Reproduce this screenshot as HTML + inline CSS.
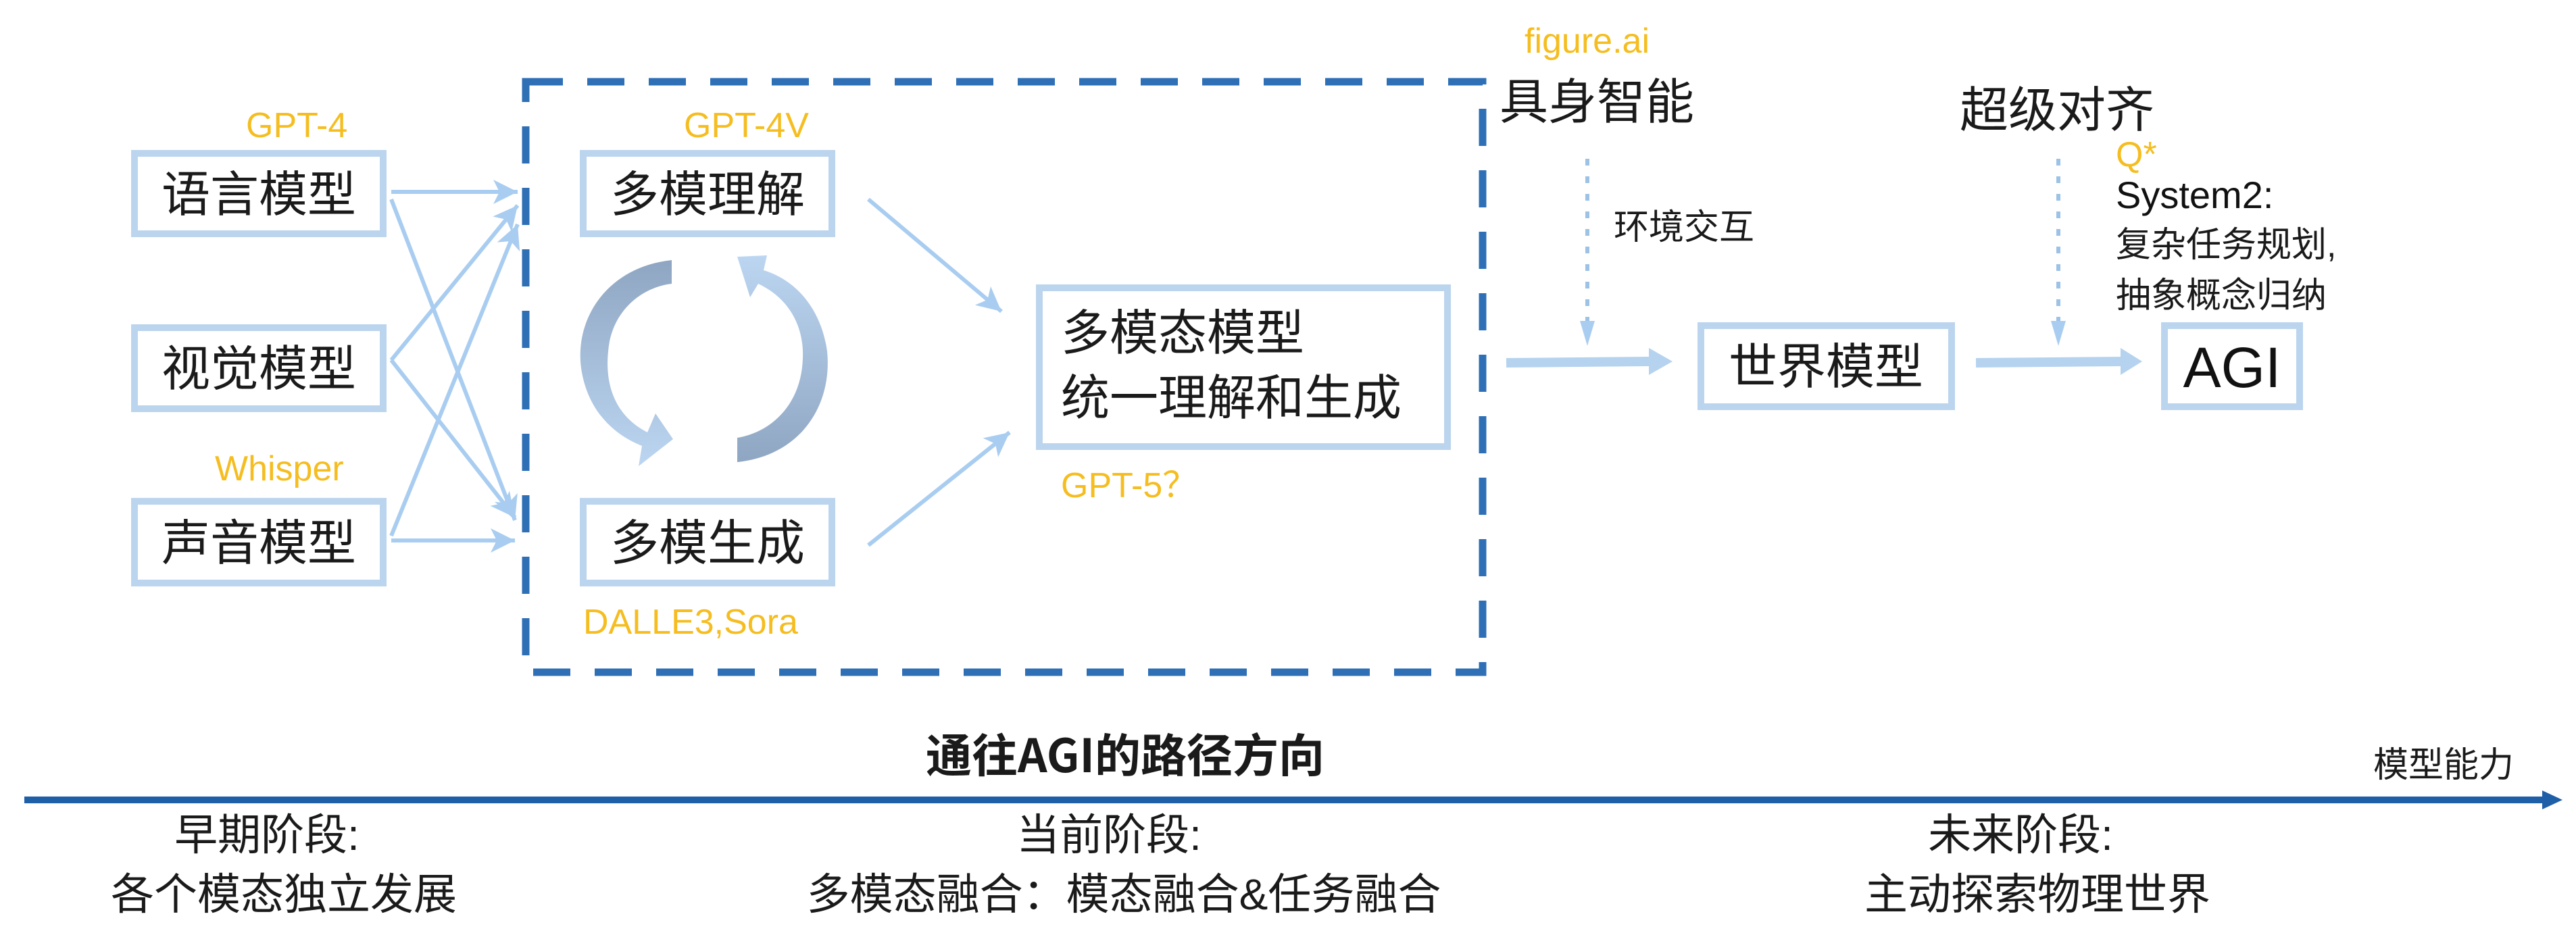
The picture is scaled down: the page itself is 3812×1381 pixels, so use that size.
<!DOCTYPE html>
<html><head><meta charset="utf-8"><style>
html,body{margin:0;padding:0;background:#fff;}
svg{display:block;}
text{font-family:"Liberation Sans","Noto Sans CJK SC",sans-serif;}
.cj{font-family:"Noto Sans CJK SC","WenQuanYi Zen Hei",sans-serif;fill:#1a1a1a;}
.y{fill:#f5bd1f;font-family:"Liberation Sans",sans-serif;}
</style></head><body>
<svg width="3812" height="1381" viewBox="0 0 3812 1381" xmlns="http://www.w3.org/2000/svg">
<defs>
<marker id="ah" markerWidth="7" markerHeight="6" refX="6" refY="3" orient="auto" markerUnits="strokeWidth">
<path d="M0,0 L6,3 L0,6 L1.5,3 z" fill="#a9cdf0"/></marker>
<linearGradient id="gL" x1="0" y1="0" x2="0" y2="1"><stop offset="0" stop-color="#8fa6c2"/><stop offset="1" stop-color="#bcd6f2"/></linearGradient>
<linearGradient id="gR" x1="0" y1="0" x2="0" y2="1"><stop offset="0" stop-color="#bcd6f2"/><stop offset="1" stop-color="#8fa6c2"/></linearGradient>
</defs>

<rect x="778" y="121" width="1416" height="874" fill="none" stroke="#2e6fb5" stroke-width="11" stroke-dasharray="55 36"/>

<g fill="#fff" stroke="#bcd5ee" stroke-width="10">
<rect x="199" y="227" width="368" height="119"/>
<rect x="199" y="485" width="368" height="120"/>
<rect x="199" y="742" width="368" height="121"/>
<rect x="863" y="227" width="368" height="119"/>
<rect x="863" y="742" width="368" height="121"/>
<rect x="1538" y="426" width="604" height="235"/>
<rect x="2517" y="482" width="371" height="120"/>
<rect x="3203" y="482" width="200" height="120"/>
</g>

<g stroke="#a9cdf0" stroke-width="6" fill="none" marker-end="url(#ah)">
<line x1="579" y1="284" x2="766" y2="284"/>
<line x1="579" y1="295" x2="762" y2="770"/>
<line x1="579" y1="533" x2="766" y2="304"/>
<line x1="579" y1="533" x2="762" y2="766"/>
<line x1="579" y1="800" x2="762" y2="800"/>
<line x1="579" y1="793" x2="766" y2="332"/>
<line x1="1285" y1="295" x2="1482" y2="461"/>
<line x1="1285" y1="807" x2="1494" y2="640"/>
</g>

<path d="M994,385 C900,395 850,470 860,545 C868,600 900,640 950,660 L945,690 L996,650 L970,612 L958,640 C910,615 895,570 900,520 C905,460 950,425 994,420 Z" fill="url(#gL)"/>
<path d="M1091,684 C1185,674 1232,600 1224,520 C1216,460 1180,415 1130,400 L1135,378 L1091,380 L1110,440 L1122,420 C1165,440 1190,480 1188,530 C1186,600 1140,640 1091,648 Z" fill="url(#gR)"/>

<g stroke="#b5d3ef" stroke-width="14" fill="none">
<line x1="2229" y1="537" x2="2440" y2="535"/>
<line x1="2924" y1="537" x2="3140" y2="535"/>
</g>
<polygon points="2440,515 2475,535 2440,555" fill="#b5d3ef"/>
<polygon points="3138,515 3170,535 3138,555" fill="#b5d3ef"/>

<g stroke="#9cc3e6" stroke-width="6" stroke-dasharray="10 16" fill="none">
<line x1="2349" y1="235" x2="2349" y2="480"/>
<line x1="3046" y1="235" x2="3046" y2="480"/>
</g>
<polygon points="2338,475 2360,475 2349,512" fill="#a9cdf0"/>
<polygon points="3035,475 3057,475 3046,512" fill="#a9cdf0"/>

<line x1="36" y1="1184" x2="3770" y2="1184" stroke="#1f5fa8" stroke-width="10"/>
<polygon points="3762,1170 3792,1184 3762,1198" fill="#1f5fa8"/>

<g class="cj" font-size="72">
<text x="383" y="313" text-anchor="middle">语言模型</text>
<text x="383" y="571" text-anchor="middle">视觉模型</text>
<text x="383" y="829" text-anchor="middle">声音模型</text>
<text x="1047" y="313" text-anchor="middle">多模理解</text>
<text x="1047" y="829" text-anchor="middle">多模生成</text>
<text x="1570" y="518">多模态模型</text>
<text x="1570" y="614">统一理解和生成</text>
<text x="2702" y="568" text-anchor="middle">世界模型</text>
<text x="2219" y="176">具身智能</text>
<text x="2900" y="188">超级对齐</text>
</g>
<g class="cj" font-size="52">
<text x="2388" y="354">环境交互</text>
<text x="3131" y="380">复杂任务规划,</text>
<text x="3131" y="455">抽象概念归纳</text>
<text x="3720" y="1150" text-anchor="end">模型能力</text>
</g>
<text x="3131" y="308" font-size="56" fill="#111">System2:</text>
<text x="3303" y="573" font-size="84" fill="#111" text-anchor="middle">AGI</text>
<g class="y" font-size="52">
<text x="364" y="203">GPT-4</text>
<text x="1012" y="203">GPT-4V</text>
<text x="318" y="711">Whisper</text>
<text x="863" y="938">DALLE3,Sora</text>
<text x="1570" y="736">GPT-5？</text>
<text x="2256" y="78">figure.ai</text>
<text x="3131" y="246">Q*</text>
</g>
<text x="1665" y="1143" text-anchor="middle" font-size="68" font-weight="bold" class="cj">通往AGI的路径方向</text>
<g class="cj" font-size="64" text-anchor="middle">
<text x="395" y="1258">早期阶段:</text>
<text x="420" y="1346">各个模态独立发展</text>
<text x="1641" y="1258">当前阶段:</text>
<text x="1663" y="1346">多模态融合：模态融合&amp;任务融合</text>
<text x="2990" y="1258">未来阶段:</text>
<text x="3015" y="1346">主动探索物理世界</text>
</g>
</svg>
</body></html>
